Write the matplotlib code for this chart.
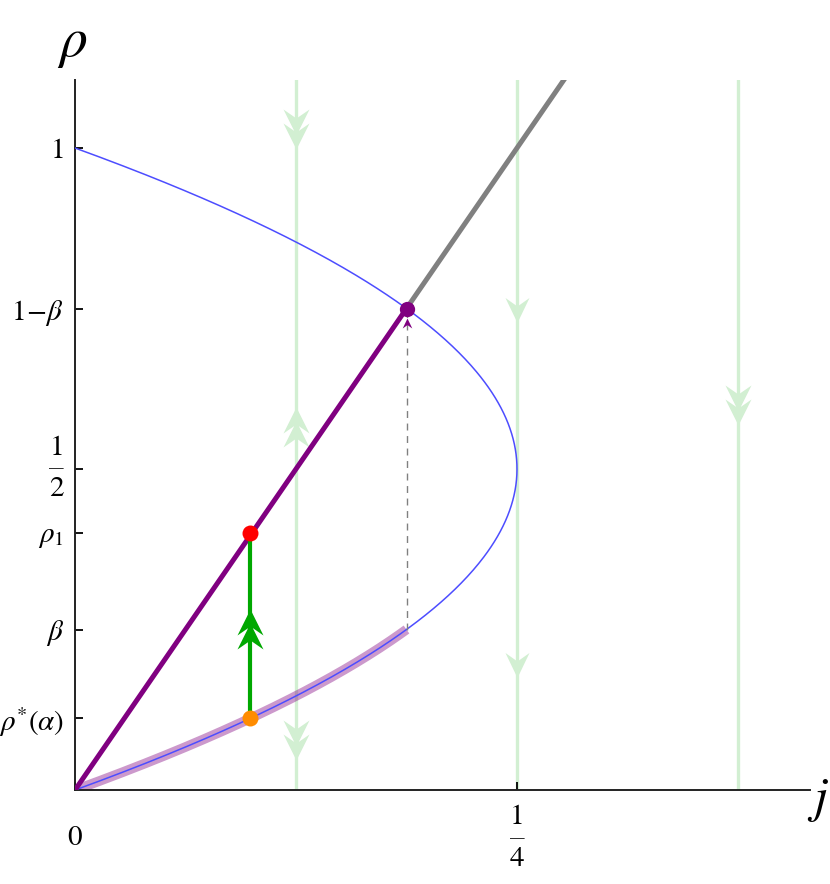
import numpy as np
import matplotlib.pyplot as plt
from matplotlib.path import Path
from matplotlib.markers import MarkerStyle

plt.rcParams['mathtext.fontset'] = 'stix'
plt.rcParams['font.family'] = 'STIXGeneral'

# model values
beta = 0.25
j_jump = 0.099        # current at the green jump
rho_alpha = 0.1125    # rho*(alpha)
rho_1 = 0.4

# light green flow lines and their arrowheads
flow_j = [0.125, 0.25, 0.375]
arrow_j = [0.125, 0.125, 0.125, 0.25, 0.25, 0.375]
arrow_rho = [1.03, 0.565, 0.078, 0.748, 0.195, 0.600]
arrow_dir = [-1, 1, -1, -1, -1, -1]
arrow_double = [True, True, True, False, False, True]

# jump arrow on the green segment
jump_arrow_rho = 0.251

# axis ticks (fractions written Mathematica-style: numerator / bar / denominator)
ytick_vals = [1, 1 - beta, 0.5, rho_1, beta, rho_alpha]
ytick_labels = [r'$1$', r'$1\!-\!\beta$', '1\n\u2013\n2', r'$\rho_1$', r'$\beta$', r'$\rho^{*}(\alpha)$']
ytick_colors = ['black', 'purple', 'black', 'red', 'black', 'darkorange']
xtick_vals = [0, 0.25]
xtick_labels = [r'$0$', '1\n\u2013\n4']

W, H = 830, 884
fig = plt.figure(figsize=(W / 100, H / 100), dpi=100)
ax = fig.add_axes([75 / W, 94 / H, 735 / W, 710 / H])
ax.set_xlim(0, 735 / 1768)
ax.set_ylim(0, 710 / 642)


def chevron(direction, double):
    # arrowhead outline in pixels (pointing up for direction=1)
    if double:
        shapes = [[(0, 20), (13, -6), (0, 3), (-13, -6)],
                  [(0, 6), (13, -20), (0, -11), (-13, -20)]]
    else:
        shapes = [[(0, 12.5), (12, -12.5), (0, -4), (-12, -12.5)]]
    verts, codes = [], []
    for s in shapes:
        for k, (x, y) in enumerate(s):
            verts.append((x, y * direction))
            codes.append(Path.MOVETO if k == 0 else Path.LINETO)
        verts.append((s[0][0], s[0][1] * direction))
        codes.append(Path.CLOSEPOLY)
    verts = np.array(verts, dtype=float)
    scale = np.max(np.abs(verts))
    return MarkerStyle(Path(verts, codes)), 2 * scale * 0.72


flow_color = '#d2efd2'
for fj in flow_j:
    ax.plot([fj, fj], [0, 2], color=flow_color, lw=2.4, zorder=1)
for aj, ar, ad, dbl in zip(arrow_j, arrow_rho, arrow_dir, arrow_double):
    m, ms = chevron(ad, dbl)
    ax.plot([aj], [ar], marker=m, ms=ms, color=flow_color, mew=0, zorder=1.5)

# fixed-point curve j = rho (1 - rho)
rho = np.linspace(0, 1, 500)
ax.plot(rho * (1 - rho), rho, color='#4d4dff', lw=1.1, zorder=3)
rho_low = np.linspace(0, beta, 200)
ax.plot(rho_low * (1 - rho_low), rho_low, color='purple', alpha=0.4, lw=7,
        solid_capstyle='butt', zorder=2)

# line rho = j / beta
j_c = beta * (1 - beta)
ax.plot([j_c, 0.3], [j_c / beta, 0.3 / beta], color='gray', lw=3.6, zorder=4)
ax.plot([0, j_c], [0, j_c / beta], color='purple', lw=3.6, zorder=5)

# dashed connector
ax.plot([j_c, j_c], [beta, 1 - beta], color='gray', lw=1, ls=(0, (5, 4)), zorder=3)

# jump
ax.plot([j_jump, j_jump], [rho_alpha, rho_1], color='#00a800', lw=3, zorder=6)
m, ms = chevron(1, True)
ax.plot([j_jump], [jump_arrow_rho], marker=m, ms=ms, color='#00a800', mew=0, zorder=6)

ax.plot([j_jump], [rho_1], 'o', color='red', ms=11.5, mew=0, zorder=7)
ax.plot([j_jump], [rho_alpha], 'o', color='darkorange', ms=11.5, mew=0, zorder=7)
ax.plot([j_c], [1 - beta], 'o', color='purple', ms=11, mew=0, zorder=7)
m, ms = chevron(1, False)
ax.plot([j_c], [1 - beta - 0.022], marker=m, ms=ms * 0.4, color='purple', mew=0, zorder=7)

# axes
for s in ['top', 'right']:
    ax.spines[s].set_visible(False)
for s in ['left', 'bottom']:
    ax.spines[s].set_linewidth(1.4)
    ax.spines[s].set_color('#222222')

ax.set_yticks(ytick_vals)
ax.set_yticklabels(ytick_labels, fontsize=21)
ax.set_xticks(xtick_vals)
ax.set_xticklabels(xtick_labels, fontsize=21)
ax.tick_params(direction='in', length=6, width=1.3)
ax.tick_params(axis='y', pad=8)
ax.tick_params(axis='x', pad=35)
for t in ax.xaxis.get_majorticklabels() + ax.yaxis.get_majorticklabels():
    if '\n' in t.get_text():
        t.set_linespacing(0.78)
        t.set_multialignment('center')
        t.set_va('center')
for t in ax.xaxis.get_majorticklabels():
    t.set_va('center')
for tick, c in zip(ax.yaxis.get_major_ticks(), ytick_colors):
    tick.tick1line.set_color(c)

fig.text(72 / W, 1 - 45 / H, r'$\rho$', fontsize=40, ha='center', va='center')
fig.text(818 / W, 1 - 800 / H, r'$j$', fontsize=36, ha='center', va='center')

plt.savefig('out.png', dpi=100)
